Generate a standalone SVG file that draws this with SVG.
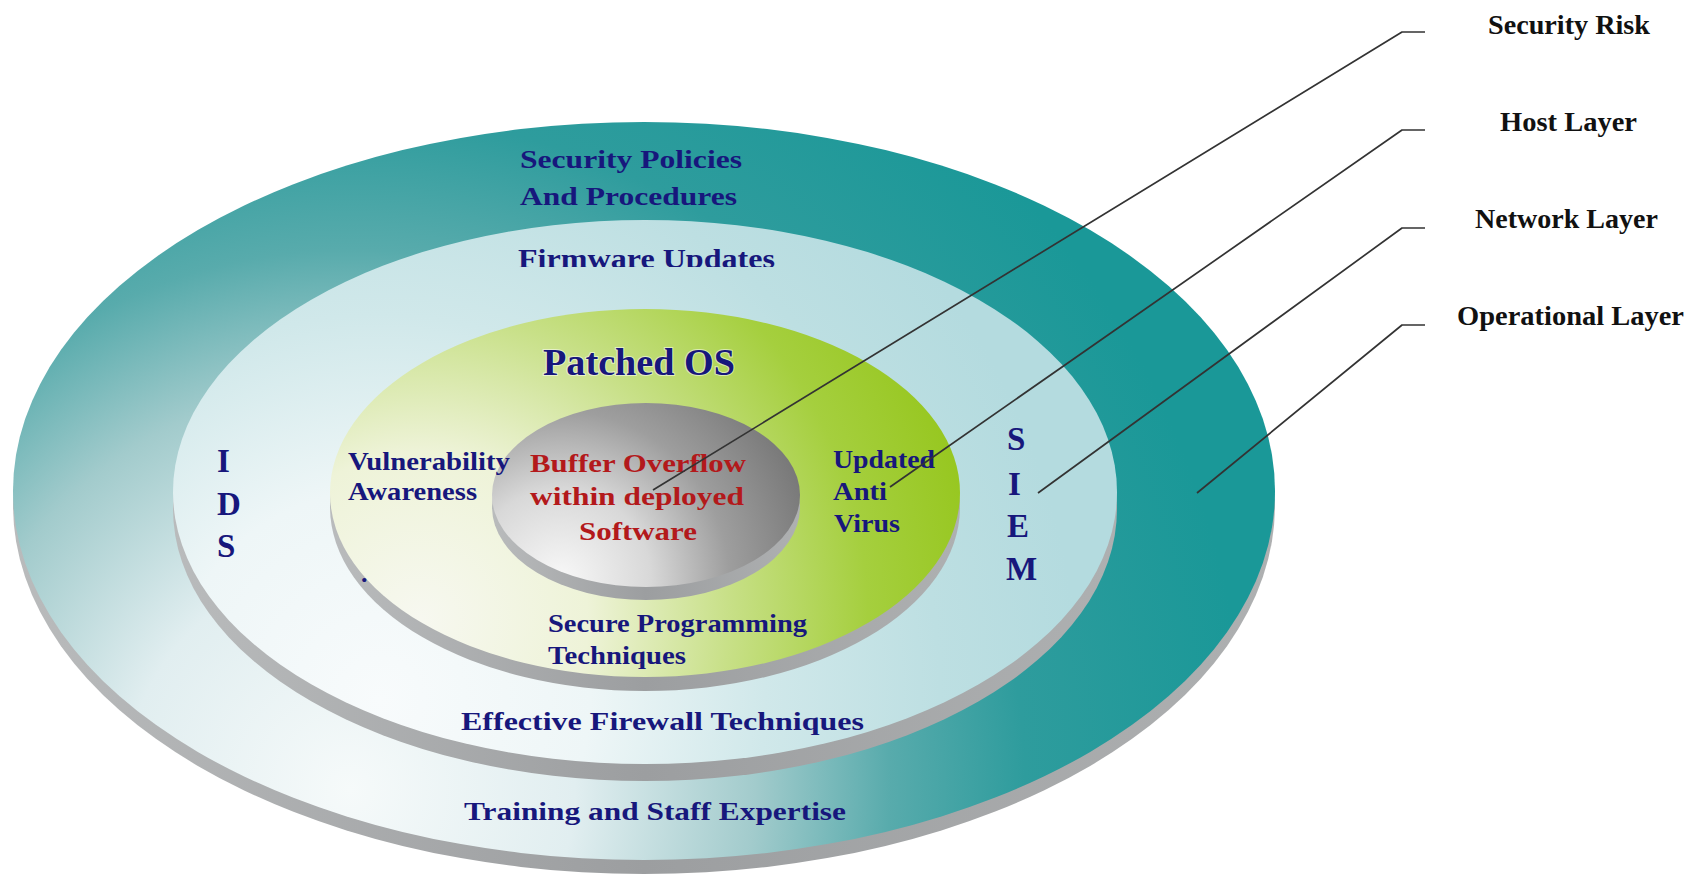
<svg xmlns="http://www.w3.org/2000/svg" width="1688" height="876" viewBox="0 0 1688 876">
  <defs>
    <!-- surface shading of each disc: light toward the lower left, saturated toward top/right -->
    <radialGradient id="gOperational" gradientUnits="userSpaceOnUse" cx="350" cy="790" r="900">
      <stop offset="0" stop-color="#f6fafa"/>
      <stop offset="0.25" stop-color="#e1eef0"/>
      <stop offset="0.45" stop-color="#a2cbcc"/>
      <stop offset="0.6" stop-color="#58abac"/>
      <stop offset="0.75" stop-color="#2e9c9d"/>
      <stop offset="1" stop-color="#1a9898"/>
    </radialGradient>
    <radialGradient id="gNetwork" gradientUnits="userSpaceOnUse" cx="380" cy="700" r="700">
      <stop offset="0" stop-color="#f8fbfc"/>
      <stop offset="0.3" stop-color="#eef6f7"/>
      <stop offset="0.55" stop-color="#d0e8ea"/>
      <stop offset="0.8" stop-color="#bddfe2"/>
      <stop offset="1" stop-color="#b4dbdf"/>
    </radialGradient>
    <radialGradient id="gHost" gradientUnits="userSpaceOnUse" cx="420" cy="620" r="560">
      <stop offset="0" stop-color="#f7f8f0"/>
      <stop offset="0.3" stop-color="#eef3d8"/>
      <stop offset="0.55" stop-color="#c8e088"/>
      <stop offset="0.8" stop-color="#a5cf3e"/>
      <stop offset="1" stop-color="#97c720"/>
    </radialGradient>
    <radialGradient id="gRisk" gradientUnits="userSpaceOnUse" cx="560" cy="580" r="260">
      <stop offset="0" stop-color="#f8f8f8"/>
      <stop offset="0.35" stop-color="#d8d8d8"/>
      <stop offset="0.65" stop-color="#9e9e9e"/>
      <stop offset="1" stop-color="#787878"/>
    </radialGradient>
    <linearGradient id="gRim" x1="0" y1="0" x2="1" y2="0">
      <stop offset="0" stop-color="#b9bbbc"/>
      <stop offset="0.5" stop-color="#9c9ea0"/>
      <stop offset="1" stop-color="#aeb0b1"/>
    </linearGradient>
    <clipPath id="clipFirmware">
      <rect x="500" y="230" width="300" height="37"/>
    </clipPath>
  </defs>

  <style>
    .rim { fill: url(#gRim); }
    .txt { font-family: "Liberation Serif", "Times New Roman", serif; font-weight: bold; fill: #17177c; }
    .red { fill: #b3191b; }
    .glow { stroke: #ffffff; stroke-width: 2; stroke-opacity: 0.55; paint-order: stroke; }
    .legend { font-family: "Liberation Serif", "Times New Roman", serif; font-weight: bold; font-size: 27px; fill: #111111; }
    .leader { fill: none; stroke: #333333; stroke-width: 1.7; stroke-linejoin: round; }
  </style>

  <rect width="1688" height="876" fill="#ffffff"/>

  <!-- stacked discs, outermost first -->
  <g id="disc-operational">
    <ellipse class="rim" cx="644" cy="505" rx="631" ry="369"/>
    <ellipse cx="644" cy="491" rx="631" ry="369" fill="url(#gOperational)"/>
  </g>
  <g id="disc-network">
    <ellipse class="rim" cx="645" cy="509" rx="472" ry="272"/>
    <ellipse cx="645" cy="492" rx="472" ry="272" fill="url(#gNetwork)"/>
  </g>
  <g id="disc-host">
    <ellipse class="rim" cx="645" cy="507" rx="315" ry="184"/>
    <ellipse cx="645" cy="493" rx="315" ry="184" fill="url(#gHost)"/>
  </g>
  <g id="disc-risk">
    <ellipse class="rim" cx="646" cy="507" rx="154" ry="93"/>
    <ellipse cx="646" cy="495" rx="154" ry="92" fill="url(#gRisk)"/>
  </g>

  <!-- operational layer measures -->
  <g id="text-operational">
    <text class="txt" font-size="26" x="520" y="168" textLength="222" lengthAdjust="spacingAndGlyphs">Security Policies</text>
    <text class="txt" font-size="26" x="520" y="205" textLength="217" lengthAdjust="spacingAndGlyphs">And Procedures</text>
    <text class="txt" font-size="26" x="464" y="820" textLength="382" lengthAdjust="spacingAndGlyphs">Training and  Staff Expertise</text>
  </g>

  <!-- network layer measures -->
  <g id="text-network">
    <text class="txt" font-size="27" x="518" y="268" textLength="257" lengthAdjust="spacingAndGlyphs" clip-path="url(#clipFirmware)">Firmware Updates</text>
    <text class="txt" font-size="33" x="217" y="472">I</text>
    <text class="txt" font-size="33" x="217" y="515">D</text>
    <text class="txt" font-size="33" x="217" y="557">S</text>
    <text class="txt" font-size="33" x="1007" y="450">S</text>
    <text class="txt" font-size="33" x="1008" y="495">I</text>
    <text class="txt" font-size="33" x="1007" y="537">E</text>
    <text class="txt" font-size="33" x="1006" y="580">M</text>
    <text class="txt" font-size="26" x="461" y="730" textLength="403" lengthAdjust="spacingAndGlyphs">Effective Firewall Techniques</text>
  </g>

  <!-- host layer measures -->
  <g id="text-host">
    <text class="txt glow" font-size="38" x="543" y="375" textLength="192" lengthAdjust="spacingAndGlyphs">Patched OS</text>
    <text class="txt" font-size="25" x="348" y="470" textLength="162" lengthAdjust="spacingAndGlyphs">Vulnerability</text>
    <text class="txt" font-size="25" x="348" y="500" textLength="129" lengthAdjust="spacingAndGlyphs">Awareness</text>
    <text class="txt" font-size="26" x="361" y="582">.</text>
    <text class="txt" font-size="25" x="833" y="468" textLength="102" lengthAdjust="spacingAndGlyphs">Updated</text>
    <text class="txt" font-size="25" x="833" y="500" textLength="54" lengthAdjust="spacingAndGlyphs">Anti</text>
    <text class="txt" font-size="25" x="834" y="532" textLength="66" lengthAdjust="spacingAndGlyphs">Virus</text>
    <text class="txt" font-size="25" x="548" y="632" textLength="259" lengthAdjust="spacingAndGlyphs">Secure Programming</text>
    <text class="txt" font-size="25" x="548" y="664" textLength="138" lengthAdjust="spacingAndGlyphs">Techniques</text>
  </g>

  <!-- the risk at the core -->
  <g id="text-risk">
    <text class="txt red" font-size="25" x="530" y="472" textLength="216" lengthAdjust="spacingAndGlyphs">Buffer Overflow</text>
    <text class="txt red" font-size="25" x="530" y="505" textLength="214" lengthAdjust="spacingAndGlyphs">within deployed</text>
    <text class="txt red" font-size="25" x="579" y="540" textLength="118" lengthAdjust="spacingAndGlyphs">Software</text>
  </g>

  <!-- leader lines from the legend into the layers -->
  <g id="connectors">
    <polyline class="leader" points="1425,32 1402,32 653,490"/>
    <polyline class="leader" points="1425,130 1402,130 890,487"/>
    <polyline class="leader" points="1425,228 1402,228 1038,493"/>
    <polyline class="leader" points="1425,325 1402,325 1197,493"/>
  </g>

  <!-- legend -->
  <g id="legend">
    <text class="legend" x="1488" y="34" textLength="162" lengthAdjust="spacingAndGlyphs">Security Risk</text>
    <text class="legend" x="1500" y="131" textLength="137" lengthAdjust="spacingAndGlyphs">Host Layer</text>
    <text class="legend" x="1475" y="228" textLength="183" lengthAdjust="spacingAndGlyphs">Network Layer</text>
    <text class="legend" x="1457" y="325" textLength="227" lengthAdjust="spacingAndGlyphs">Operational Layer</text>
  </g>
</svg>
